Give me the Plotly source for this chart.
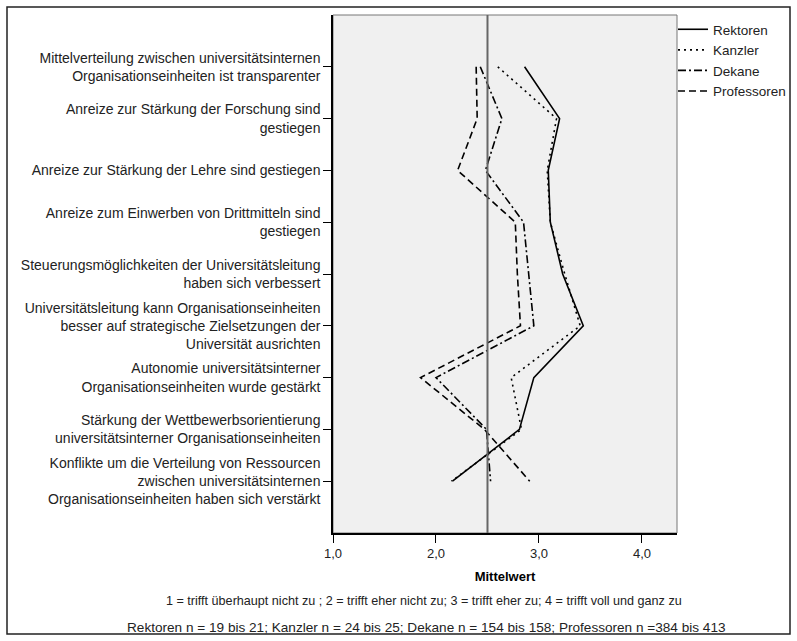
import plotly.graph_objects as go

categories = [
    "Mittelverteilung zwischen universitätsinternen<br>Organisationseinheiten ist transparenter",
    "Anreize zur Stärkung der Forschung sind<br>gestiegen",
    "Anreize zur Stärkung der Lehre sind gestiegen",
    "Anreize zum Einwerben von Drittmitteln sind<br>gestiegen",
    "Steuerungsmöglichkeiten der Universitätsleitung<br>haben sich verbessert",
    "Universitätsleitung kann Organisationseinheiten<br>besser auf strategische Zielsetzungen der<br>Universität ausrichten",
    "Autonomie universitätsinterner<br>Organisationseinheiten wurde gestärkt",
    "Stärkung der Wettbewerbsorientierung<br>universitätsinterner Organisationseinheiten",
    "Konflikte um die Verteilung von Ressourcen<br>zwischen universitätsinternen<br>Organisationseinheiten haben sich verstärkt",
]

rektoren = [2.86, 3.20, 3.09, 3.11, 3.23, 3.43, 2.95, 2.81, 2.16]
kanzler = [2.60, 3.17, 3.08, 3.11, 3.25, 3.40, 2.73, 2.83, 2.15]
dekane = [2.43, 2.64, 2.48, 2.85, 2.90, 2.95, 2.00, 2.49, 2.53]
professoren = [2.39, 2.40, 2.21, 2.77, 2.79, 2.82, 1.85, 2.47, 2.91]

x_ticks = [1, 2, 3, 4]
ref_value = 2.5

series = [
    ("Rektoren", rektoren, "solid"),
    ("Kanzler", kanzler, "2px,4px"),
    ("Dekane", dekane, "8px,3px,2px,3px"),
    ("Professoren", professoren, "7px,4px"),
]

W, H = 797, 641
L, R, T, B = 333, 677, 15, 533

fig = go.Figure()
for name, vals, dash in series:
    fig.add_trace(go.Scatter(
        x=vals, y=categories, mode="lines", name=name,
        line=dict(color="black", width=1.6, dash=dash),
    ))

FONT = "Liberation Sans, Arial, sans-serif"

def px_to_paper_x(p):
    return (p - L) / (R - L)

def px_to_paper_y(p):
    return (B - p) / (B - T)

fig.update_layout(
    width=W, height=H, autosize=False,
    margin=dict(l=L, r=W - R, t=T, b=H - B, autoexpand=False),
    paper_bgcolor="white",
    plot_bgcolor="#f0f0f0",
    separators=", ",
    font=dict(family=FONT, size=13, color="#222"),
    showlegend=True,
    legend=dict(
        xref="container", yref="container",
        x=673 / W, xanchor="left", y=1 - 14 / H, yanchor="top",
        bgcolor="rgba(0,0,0,0)", font=dict(size=13.5, color="#222"),
        tracegroupgap=0, itemwidth=30,
    ),
    xaxis=dict(
        range=[1, 4.34], tickvals=x_ticks, tickformat=".1f",
        showgrid=False, zeroline=False,
        showline=True, linecolor="black", linewidth=1.5,
        ticks="outside", ticklen=8, tickcolor="black", tickwidth=1.2,
        tickfont=dict(size=13, color="#222"),
        title=dict(text="<b>Mittelwert</b>", font=dict(size=13, color="black"), standoff=12),
    ),
    yaxis=dict(
        categoryorder="array", categoryarray=categories,
        range=[len(categories), -1],
        showgrid=False, zeroline=False,
        showline=True, linecolor="black", linewidth=1.5,
        ticks="outside", ticklen=8, tickcolor="black", tickwidth=1.2,
        tickfont=dict(size=14, color="#222"),
    ),
)

# plot area border (top/right gray)
fig.add_shape(type="rect", xref="paper", yref="paper", x0=0, x1=1, y0=0, y1=1,
              line=dict(color="#777", width=1), layer="below")
# reference line
fig.add_shape(type="line", xref="x", yref="paper", x0=ref_value, x1=ref_value, y0=0, y1=1,
              line=dict(color="#666", width=2))
# outer border
fig.add_shape(type="rect", xref="paper", yref="paper",
              x0=px_to_paper_x(7), x1=px_to_paper_x(790),
              y0=px_to_paper_y(634), y1=px_to_paper_y(7),
              line=dict(color="#222", width=1.5))

fig.add_annotation(x=px_to_paper_x(424), y=px_to_paper_y(601), xref="paper", yref="paper",
                   text="1 = trifft überhaupt nicht zu ; 2 = trifft eher nicht zu; 3 = trifft eher zu; 4 = trifft voll und ganz zu",
                   showarrow=False, font=dict(size=12.6, color="#222"), xanchor="center", yanchor="middle")
fig.add_annotation(x=px_to_paper_x(426), y=px_to_paper_y(627), xref="paper", yref="paper",
                   text="Rektoren n = 19 bis 21; Kanzler n = 24 bis 25; Dekane n = 154 bis 158; Professoren n =384 bis 413",
                   showarrow=False, font=dict(size=13.6, color="#222"), xanchor="center", yanchor="middle")

fig.write_html(
    "out.html",
    config={"displayModeBar": False, "responsive": False},
    default_width="797px", default_height="641px",
    post_script=(
        "document.documentElement.style.overflow='hidden';"
        "document.body.style.overflow='hidden';"
        "document.body.style.margin='0';document.body.style.padding='0';"
    ),
)
